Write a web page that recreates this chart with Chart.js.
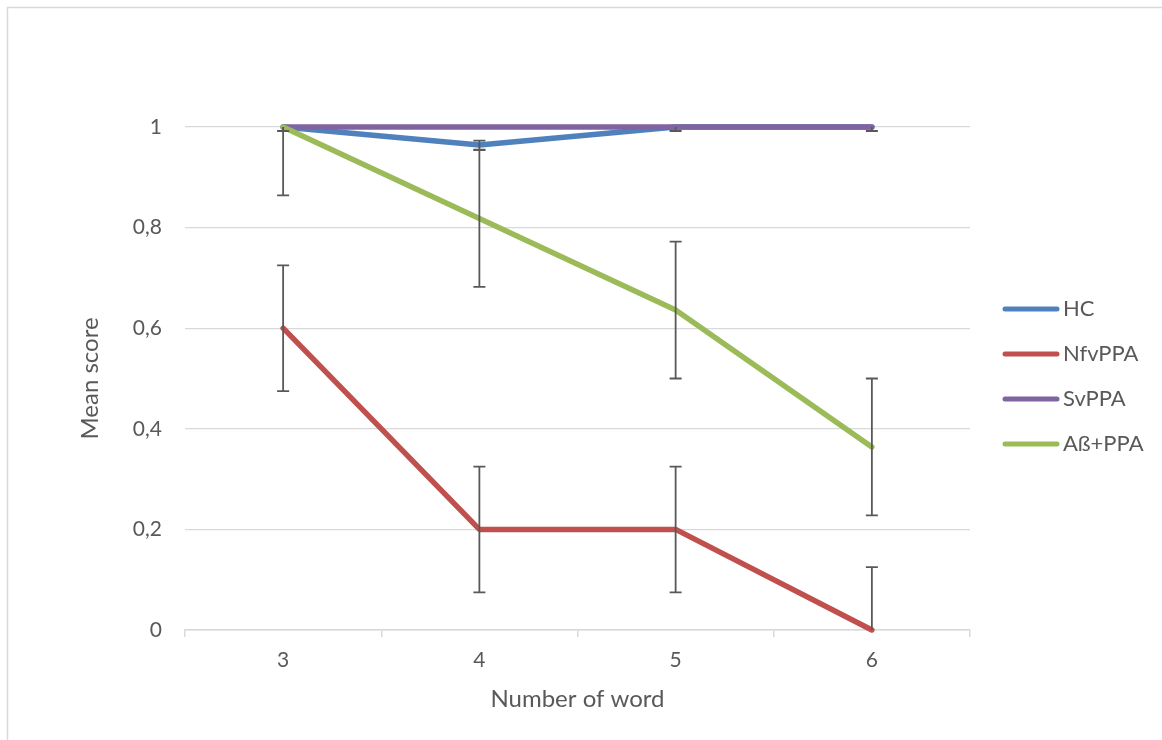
<!DOCTYPE html>
<html>
<head>
<meta charset="utf-8">
<script src="https://cdn.jsdelivr.net/npm/chart.js@4.4.1/dist/chart.umd.min.js"></script>
<style>
  html, body { margin: 0; padding: 0; background: #ffffff; }
  #wrap { width: 1162px; height: 740px; position: relative; }
</style>
</head>
<body>
<div id="wrap"><canvas id="chart" width="1162" height="740"></canvas></div>
<script>
// categories and series values
const categories = ['3', '4', '5', '6'];
const seriesNames = ['HC', 'NfvPPA', 'SvPPA', 'A\u00df+PPA'];
const hcValues = [1, 0.964, 1, 1];
const nfvValues = [0.6, 0.2, 0.2, 0];
const svValues = [1, 1, 1, 1];
const abValues = [1, 0.818, 0.636, 0.364];
// error bar half-lengths (clipped to the 0..1 axis like Excel does)
const hcErrors = [0.008, 0.009, 0.008, 0.008];
const nfvErrors = [0.125, 0.125, 0.125, 0.125];
const abErrors = [0.136, 0.136, 0.136, 0.136];
const yTicks = [0, 0.2, 0.4, 0.6, 0.8, 1];

const seriesColors = ['#4f81bd', '#c0504d', '#8064a2', '#9bbb59'];
const textColor = '#595959';
const gridColor = '#d9d9d9';
const fontFamily = 'Lato, "Open Sans", sans-serif';

// Excel style error bars, drawn over the lines
const errorBarPlugin = {
    id: 'errorBars',
    afterDatasetsDraw(chart) {
        const ctx = chart.ctx;
        const yScale = chart.scales.y;
        const xScale = chart.scales.x;
        ctx.save();
        ctx.strokeStyle = '#595959';
        ctx.lineWidth = 1.8;
        chart.data.datasets.forEach(ds => {
            if (!ds.errors) return;
            ds.data.forEach((v, i) => {
                const e = ds.errors[i];
                if (!e) return;
                const x = xScale.getPixelForValue(i);
                const lo = v - e;
                const hi = v + e;
                const yLo = yScale.getPixelForValue(Math.max(lo, yScale.min));
                const yHi = yScale.getPixelForValue(Math.min(hi, yScale.max));
                ctx.beginPath();
                ctx.moveTo(x, yLo);
                ctx.lineTo(x, yHi);
                if (lo >= yScale.min) {
                    ctx.moveTo(x - 6, yLo);
                    ctx.lineTo(x + 6, yLo);
                }
                if (hi <= yScale.max) {
                    ctx.moveTo(x - 6, yHi);
                    ctx.lineTo(x + 6, yHi);
                }
                ctx.stroke();
            });
        });
        ctx.restore();
    }
};

// legend on the right, one line sample per series
const legendPlugin = {
    id: 'sideLegend',
    afterDraw(chart) {
        const ctx = chart.ctx;
        const startY = 309;
        const step = 45;
        ctx.save();
        ctx.font = '22px ' + fontFamily;
        ctx.textBaseline = 'middle';
        ctx.fillStyle = textColor;
        seriesNames.forEach((name, i) => {
            const y = startY + i * step;
            ctx.strokeStyle = seriesColors[i];
            ctx.lineWidth = 5;
            ctx.lineCap = 'round';
            ctx.beginPath();
            ctx.moveTo(1005, y);
            ctx.lineTo(1057, y);
            ctx.stroke();
            ctx.fillText(name, 1063, y);
        });
        ctx.restore();
    }
};

// thin frame of the chart object
const framePlugin = {
    id: 'frame',
    beforeDraw(chart) {
        const ctx = chart.ctx;
        ctx.save();
        ctx.strokeStyle = '#d9d9d9';
        ctx.lineWidth = 1.5;
        ctx.strokeRect(7.5, 7.5, 1200, 800);
        ctx.restore();
    }
};

function lineDataset(label, data, color, order, errors) {
    return {
        label: label,
        data: data,
        borderColor: color,
        backgroundColor: color,
        borderWidth: 5.5,
        pointRadius: 0,
        pointHoverRadius: 0,
        tension: 0,
        borderJoinStyle: 'round',
        borderCapStyle: 'round',
        clip: false,
        order: order,
        errors: errors
    };
}

const ctx = document.getElementById('chart').getContext('2d');
new Chart(ctx, {
    type: 'line',
    data: {
        labels: categories,
        datasets: [
            lineDataset(seriesNames[0], hcValues, seriesColors[0], 3, hcErrors),
            lineDataset(seriesNames[1], nfvValues, seriesColors[1], 2, nfvErrors),
            lineDataset(seriesNames[2], svValues, seriesColors[2], 1, null),
            lineDataset(seriesNames[3], abValues, seriesColors[3], 0, abErrors)
        ]
    },
    options: {
        responsive: false,
        animation: false,
        devicePixelRatio: 1,
        layout: {
            padding: { left: 74, right: 192, top: 127, bottom: 0 }
        },
        plugins: {
            legend: { display: false },
            tooltip: { enabled: false }
        },
        scales: {
            x: {
                offset: true,
                grid: {
                    offset: true,
                    drawOnChartArea: false,
                    drawTicks: true,
                    tickLength: 7,
                    color: gridColor,
                    lineWidth: 1.5
                },
                border: { color: gridColor, width: 1.5 },
                ticks: {
                    color: textColor,
                    font: { family: fontFamily, size: 21 },
                    padding: 11
                },
                title: {
                    display: true,
                    text: 'Number of word',
                    color: textColor,
                    font: { family: fontFamily, size: 24 },
                    padding: { top: 0, bottom: 26 }
                },
                afterFit(scale) { scale.height = 110; }
            },
            y: {
                min: 0,
                max: 1,
                afterBuildTicks(scale) {
                    scale.ticks = yTicks.map(v => ({ value: v }));
                },
                grid: {
                    drawTicks: false,
                    color: gridColor,
                    lineWidth: 1.3
                },
                border: { display: false },
                ticks: {
                    color: textColor,
                    font: { family: fontFamily, size: 21 },
                    padding: 23,
                    callback: v => String(Math.round(v * 10) / 10).replace('.', ',')
                },
                title: {
                    display: true,
                    text: 'Mean score',
                    color: textColor,
                    font: { family: fontFamily, size: 24 },
                    padding: { top: 2, bottom: 0 }
                },
                afterFit(scale) { scale.width = 111; }
            }
        }
    },
    plugins: [framePlugin, errorBarPlugin, legendPlugin]
});
</script>
</body>
</html>
